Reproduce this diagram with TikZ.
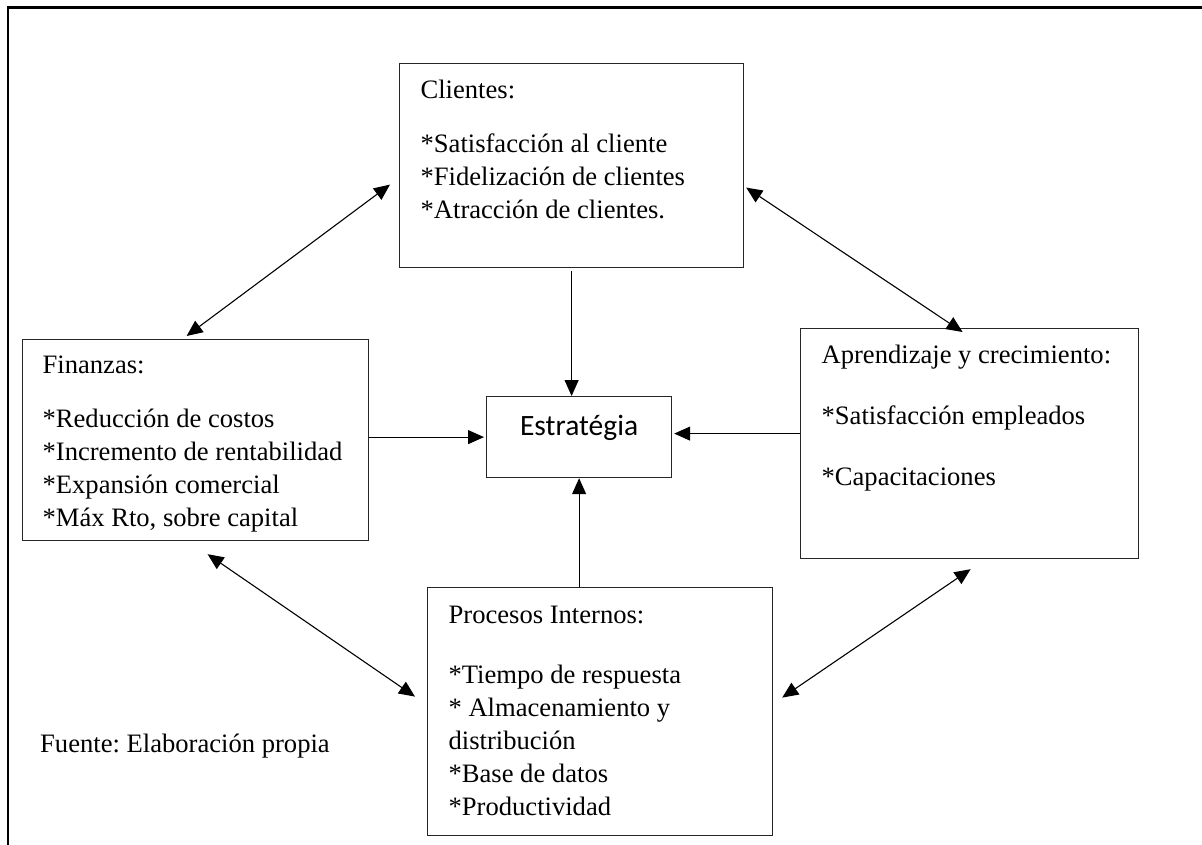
\documentclass[tikz,border=0pt]{standalone}
\usepackage{fontspec}
\setmainfont{Liberation Serif}
\newfontfamily\calib{Carlito}
\usetikzlibrary{arrows.meta,calc}
\frenchspacing
\newcommand\bxt[5]{\parbox[c][#2][t]{#1}{\fontsize{26.6pt}{33pt}\selectfont\frenchspacing\leftskip=#3\relax\rule{0pt}{#4}#5}}
\tikzset{
  box/.style={draw=black!85, line width=1.2pt, inner sep=0pt, anchor=north west},
  arr/.style={line width=1.1pt, -{Triangle[length=16pt,width=14pt]}},
  darr/.style={line width=1.1pt, {Triangle[length=16pt,width=14pt]}-{Triangle[length=16pt,width=14pt]}}
}
\begin{document}
\begin{tikzpicture}[x=1pt,y=-1pt]
\useasboundingbox (0,0) rectangle (1202,845);
\draw[line width=2.6pt] (8,845) -- (8,7.5) -- (1202,7.5);

\node[box] (cli) at (399,63) {\bxt{344pt}{204pt}{21pt}{35pt}{Clientes:\\[21pt]*Satisfacción al cliente\\{}*Fidelización de clientes\\{}*Atracción de clientes.}};
\node[box] (fin) at (22,339) {\bxt{346pt}{201pt}{20pt}{34pt}{Finanzas:\\[21pt]*Reducción de costos\\{}*Incremento de rentabilidad\\{}*Expansión comercial\\{}*Máx Rto, sobre capital}};
\node[box] (apr) at (800,328) {\bxt{338pt}{230pt}{21pt}{35pt}{Aprendizaje y crecimiento:\\[28pt]*Satisfacción empleados\\[28pt]*Capacitaciones}};
\node[box] (pro) at (427,587) {\bxt{345pt}{248pt}{21pt}{36pt}{Procesos Internos:\\[27pt]*Tiempo de respuesta\\{}* Almacenamiento y\\distribución\\{}*Base de datos\\{}*Productividad}};
\node[box] (est) at (486,396) {\parbox[c][81pt][t]{185pt}{\centering\calib\fontsize{29.5pt}{33pt}\selectfont\rule{0pt}{39pt}Estratégia}};
\node[anchor=base west, inner sep=0pt, font=\fontsize{26.6pt}{33pt}\selectfont] (fte) at (40,752) {Fuente: Elaboración propia};

\coordinate (t1) at ([xshift=-9pt,yshift=-19pt]cli.west);
\coordinate (t2) at ([xshift=-9pt,yshift=3pt]fin.north);
\coordinate (t3) at ([xshift=2pt,yshift=-22pt]cli.east);
\coordinate (t4) at ([xshift=-7pt,yshift=-4pt]apr.north);
\coordinate (t5) at ([xshift=12pt,yshift=-13pt]fin.south);
\coordinate (t6) at ([xshift=-12pt,yshift=15pt]pro.west);
\coordinate (t7) at ([xshift=1pt,yshift=-10pt]apr.south);
\coordinate (t8) at ([xshift=9pt,yshift=14pt]pro.east);

\draw[darr] (t2) -- (t1);
\draw[darr] (t3) -- (t4);
\draw[darr] (t5) -- (t6);
\draw[darr] (t7) -- (t8);

\draw[arr] ([yshift=-3pt]cli.south) -- (cli.south |- est.north);
\draw[arr] (est.south |- pro.north) -- (est.south);
\draw[arr] (fin.east |- est.west) -- ([xshift=-2pt]est.west);
\coordinate (ea) at ([xshift=2pt,yshift=3.5pt]est.east);
\draw[arr] (apr.west |- ea) -- (ea);
\end{tikzpicture}
\end{document}
